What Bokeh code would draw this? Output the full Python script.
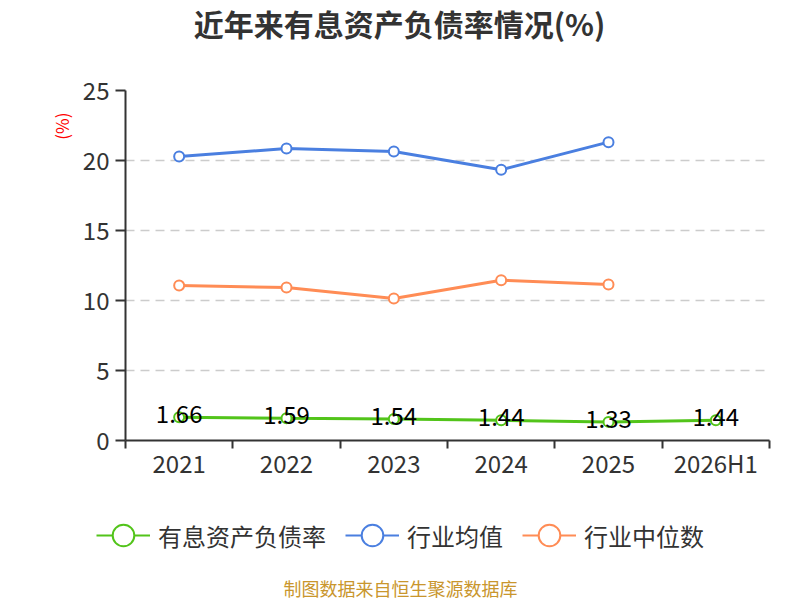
from bokeh.plotting import figure
from bokeh.layouts import column
from bokeh.models import (ColumnDataSource, Range1d, FixedTicker, Legend,
                          LegendItem, Title, Label)
from bokeh.core.properties import value
from bokeh.embed import file_html
from bokeh.resources import INLINE

# ---- data ----
categories = ["2021", "2022", "2023", "2024", "2025", "2026H1"]
debt_ratio = [1.66, 1.59, 1.54, 1.44, 1.33, 1.44]
industry_avg = [20.29, 20.85, 20.64, 19.34, 21.31]
industry_median = [11.07, 10.93, 10.14, 11.45, 11.14]
y_ticks = [0, 5, 10, 15, 20, 25]

title_text = "近年来有息资产负债率情况(%)"
series_names = ["有息资产负债率", "行业均值", "行业中位数"]
colors = ["#52C41A", "#4A7FE0", "#FF8C55"]
footer_text = "制图数据来自恒生聚源数据库"
FONT = "Noto Sans CJK SC"

xpos = [i + 0.5 for i in range(len(categories))]
series = [debt_ratio, industry_avg, industry_median]


def strip(h):
    f = figure(width=800, height=h, output_backend="svg", toolbar_location=None,
               x_range=Range1d(0, 1), y_range=Range1d(0, 1),
               x_axis_type=None, y_axis_type=None,
               min_border_left=0, min_border_right=0, min_border_top=0,
               min_border_bottom=0, outline_line_color=None)
    f.background_fill_color = "white"
    f.border_fill_color = "white"
    f.grid.visible = False
    return f


def no_align(f):
    if "frame_align" in f.properties():
        f.frame_align = False


# ---------------- title strip ----------------
t = strip(50)
t.add_layout(Label(x=399, y=28, x_units="screen", y_units="screen",
                   text=title_text, text_font=FONT, text_font_size="30px",
                   text_font_style="bold", text_color="#333333",
                   text_align="center", text_baseline="middle"))

# ---------------- main chart ----------------
p = figure(width=800, height=440, output_backend="svg", toolbar_location=None,
           x_range=Range1d(0, len(categories)), y_range=Range1d(0, 25),
           min_border_left=125, min_border_right=31, min_border_top=40,
           min_border_bottom=50, outline_line_color=None)
p.background_fill_color = "white"
p.border_fill_color = "white"

xa = p.xaxis[0]
xa.ticker = FixedTicker(ticks=xpos, minor_ticks=list(range(len(categories) + 1)))
xa.major_label_overrides = {x: c for x, c in zip(xpos, categories)}
xa.major_tick_line_color = None
xa.major_tick_out = 2
xa.major_tick_in = 0
xa.minor_tick_line_color = "#333333"
xa.minor_tick_line_width = 2
xa.minor_tick_out = 8
xa.minor_tick_in = 0
xa.axis_line_color = "#333333"
xa.axis_line_width = 2
xa.major_label_text_font = FONT
xa.major_label_text_font_size = "24px"
xa.major_label_text_color = "#333333"
xa.major_label_standoff = -4

ya = p.yaxis[0]
ya.ticker = FixedTicker(ticks=y_ticks)
ya.minor_tick_line_color = None
ya.major_tick_out = 10
ya.major_tick_in = 0
ya.major_tick_line_width = 2
ya.major_tick_line_color = "#333333"
ya.axis_line_color = "#333333"
ya.axis_line_width = 2
ya.major_label_text_font = FONT
ya.major_label_text_font_size = "24px"
ya.major_label_text_color = "#333333"
ya.major_label_standoff = 6

p.xgrid.grid_line_color = None
p.ygrid.grid_line_color = "#cccccc"
p.ygrid.grid_line_width = 1.5
p.ygrid.grid_line_dash = "9 6"

for vals, color in [(industry_avg, colors[1]), (industry_median, colors[2]),
                    (debt_ratio, colors[0])]:
    src = ColumnDataSource(dict(x=xpos[:len(vals)], y=vals))
    p.line("x", "y", source=src, line_color=color, line_width=3)
    p.scatter("x", "y", source=src, size=10, marker="circle",
              fill_color="white", line_color=color, line_width=2)

lab_src = ColumnDataSource(dict(x=xpos, y=debt_ratio,
                                t=[f"{v:.2f}" for v in debt_ratio]))
p.text("x", "y", text="t", source=lab_src, text_font=value(FONT),
       text_font_size="24px", text_color="#000000", text_align="center",
       text_baseline="middle", y_offset=-3)

p.add_layout(Title(text="(%)", align="right", offset=22, text_font=FONT,
                   text_font_size="17px", text_font_style="normal",
                   text_color="#ff0000", standoff=12), "left")

# ---------------- legend + footer strip ----------------
q = strip(110)
items = []
for name, vals, color in zip(series_names, series, colors):
    src = ColumnDataSource(dict(x=xpos[:len(vals)], y=vals))
    r1 = q.line("x", "y", source=src, line_color=color, line_width=2,
                visible=False)
    r2 = q.scatter("x", "y", source=src, marker="circle", size=10,
                   fill_color="white", line_color=color, line_width=2,
                   visible=False)
    items.append(LegendItem(label=name, renderers=[r1, r2]))

legend = Legend(items=items, orientation="horizontal", location=(96, 38),
                glyph_width=54, glyph_height=54, label_standoff=8, spacing=19,
                padding=0, margin=0, border_line_color=None,
                background_fill_alpha=0, inactive_fill_alpha=0,
                label_text_font=FONT, label_text_font_size="24px",
                label_text_color="#333333", label_height=54)
q.add_layout(legend)

q.add_layout(Label(x=400, y=13, x_units="screen", y_units="screen",
                   text=footer_text, text_font=FONT, text_font_size="18px",
                   text_color="#C9962D", text_align="center",
                   text_baseline="middle"))

for f in (t, p, q):
    no_align(f)

layout = column(t, p, q, spacing=0)
open("out.html", "w").write(file_html(layout, INLINE))
